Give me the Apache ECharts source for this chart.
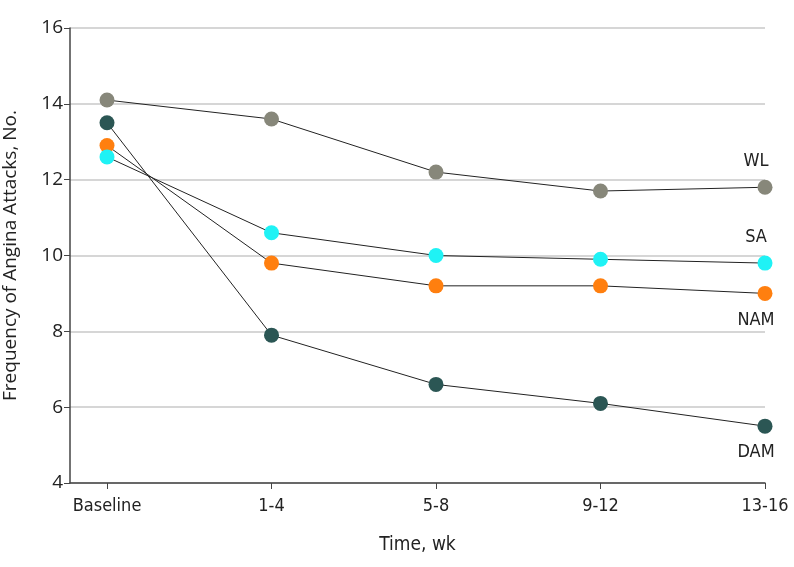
<!DOCTYPE html>
<html><head><meta charset="utf-8">
<script src="https://cdn.jsdelivr.net/npm/echarts@6/dist/echarts.min.js"></script>
<style>html,body{margin:0;padding:0;background:#fff}#c{width:794px;height:567px}</style>
</head><body><div id="c"></div>
<script>
const categories = ['Baseline', '1-4', '5-8', '9-12', '13-16'];
const seriesNames = ['WL', 'SA', 'NAM', 'DAM'];
const wlValues = [14.1, 13.6, 12.2, 11.7, 11.8];
const saValues = [12.6, 10.6, 10.0, 9.9, 9.8];
const namValues = [12.9, 9.8, 9.2, 9.2, 9.0];
const damValues = [13.5, 7.9, 6.6, 6.1, 5.5];
const yTicks = [4, 6, 8, 10, 12, 14, 16];

const colors = {WL: '#87877a', SA: '#1ff2f5', NAM: '#ff7f0f', DAM: '#2b5654'};
const labelPos = {WL: 'top', SA: 'top', NAM: 'bottom', DAM: 'bottom'};
const valuesBy = {WL: wlValues, SA: saValues, NAM: namValues, DAM: damValues};
const fontCond = '"DejaVu Sans Condensed", "Liberation Sans Narrow", sans-serif';
const fontReg = '"Open Sans", "Liberation Sans", sans-serif';

const series = ['DAM','NAM','SA','WL'].map(name => {
  const vals = valuesBy[name];
  return {
    name: name,
    type: 'line',
    symbol: 'circle',
    symbolSize: 15,
    lineStyle: {color: '#222', width: 1},
    itemStyle: {color: colors[name]},
    z: 3,
    data: vals.map((v, i) => {
      const d = {value: [i, v]};
      if (i === vals.length - 1) {
        d.label = {show: true, formatter: name, position: labelPos[name], distance: labelPos[name] === 'top' ? 9 : 10,
          offset: [-9, 0], color: '#222', fontSize: 18, fontFamily: fontCond};
      }
      return d;
    })
  };
});

const chart = echarts.init(document.getElementById('c'));
chart.setOption({
  animation: false,
  grid: {left: 70, right: 29, top: 28, bottom: 84, containLabel: false, outerBoundsMode: 'none'},
  xAxis: {
    type: 'value', min: -0.225, max: 4,
    name: 'Time, wk', nameLocation: 'middle', nameGap: 53,
    nameTextStyle: {fontSize: 19, color: '#222', fontFamily: fontCond},
    axisLine: {onZero: false, lineStyle: {color: '#444', width: 1.5}},
    axisTick: {show: true, customValues: [0,1,2,3,4], length: 6, lineStyle: {color: '#444'}},
    axisLabel: {customValues: [0,1,2,3,4], formatter: v => categories[Math.round(v)],
      fontSize: 18, color: '#222', margin: 14, fontFamily: fontCond},
    splitLine: {show: false}
  },
  yAxis: {
    type: 'value', min: 4, max: 16, interval: 2,
    name: 'Frequency of Angina Attacks, No.', nameLocation: 'middle', nameGap: 50,
    nameTextStyle: {fontSize: 19, color: '#222', fontFamily: fontReg},
    axisLine: {show: true, onZero: false, lineStyle: {color: '#444', width: 1.5}},
    axisTick: {show: true, length: 6, lineStyle: {color: '#444'}},
    axisLabel: {fontSize: 19, color: '#222', margin: 7, fontFamily: fontReg},
    splitLine: {show: true, lineStyle: {color: '#d6d6d6', width: 2}}
  },
  series: series
});
</script></body></html>
